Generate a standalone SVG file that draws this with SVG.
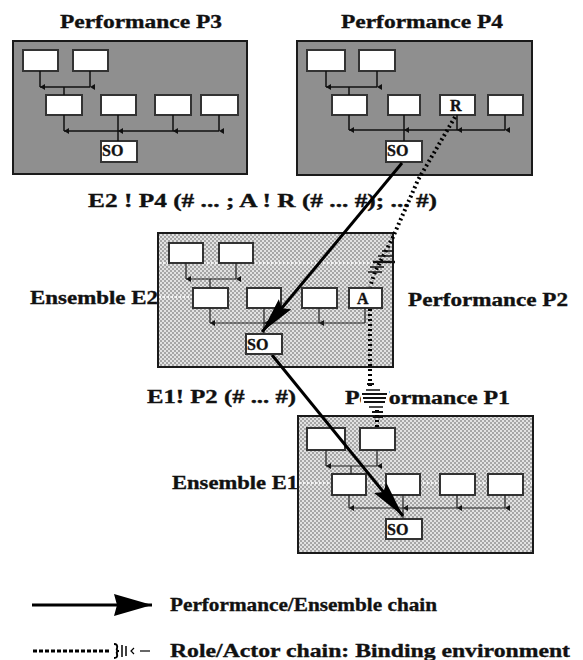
<svg xmlns="http://www.w3.org/2000/svg" width="583" height="660" viewBox="0 0 583 660">
<style>
.t{font-family:"Liberation Serif","Times New Roman",serif;font-weight:bold;fill:#111;stroke:#111;stroke-width:0.35}
.tt{font-size:19px}
.bt{font-size:16px}
.pbox{fill:#8f8f8f;stroke:#1a1a1a;stroke-width:2}
.ebox{fill:url(#dither);stroke:#1a1a1a;stroke-width:2}
.ib{fill:#fff;stroke:#333;stroke-width:2}
.ln{fill:none;stroke:#111;stroke-width:1.5}
.eln{fill:none;stroke:#222;stroke-width:1.2}
.tick{stroke:#111;stroke-width:1.5}
.chain{fill:none;stroke:#000;stroke-width:3}
.role{fill:none;stroke:#000;stroke-width:4;stroke-dasharray:2 3}
.band{stroke:#f2f2f2;stroke-width:2;stroke-dasharray:2 2}
</style>
<defs>
<pattern id="dither" width="4" height="4" patternUnits="userSpaceOnUse">
<rect width="4" height="4" fill="#e2e2e2"/>
<rect width="2" height="2" fill="#a6a6a6"/>
<rect x="2" y="2" width="2" height="2" fill="#a6a6a6"/>
</pattern>
<marker id="dn" markerUnits="userSpaceOnUse" markerWidth="6" markerHeight="6" refX="3" refY="5" orient="auto-start-reverse" viewBox="0 0 6 6">
<path d="M0,0 L6,0 L3,5 z" fill="#111"/>
</marker>
<marker id="ah" markerUnits="userSpaceOnUse" markerWidth="38" markerHeight="18" refX="36" refY="8" orient="auto" viewBox="0 0 38 18">
<path d="M0,0 L36,8 L0,16 L5,8 z" fill="#000"/>
</marker>
<marker id="ahL" markerUnits="userSpaceOnUse" markerWidth="40" markerHeight="24" refX="38" refY="11" orient="auto" viewBox="0 0 40 24">
<path d="M0,0 L38,11 L0,22 L3,11 z" fill="#000"/>
</marker>
</defs>
<rect width="583" height="660" fill="#fff"/>

<g id="P3">
<text class="t tt" x="60" y="28" textLength="162" lengthAdjust="spacingAndGlyphs">Performance P3</text>
<rect class="pbox" x="13" y="41" width="234" height="133"/>
<rect class="ib" x="23" y="50" width="35" height="21"/>
<rect class="ib" x="73" y="50" width="35" height="21"/>
<rect class="ib" x="46" y="95" width="36" height="20"/>
<rect class="ib" x="101" y="95" width="35" height="20"/>
<rect class="ib" x="155" y="95" width="36" height="20"/>
<rect class="ib" x="201" y="95" width="37" height="20"/>
<rect class="ib" x="101" y="141" width="36" height="21"/>
<text class="t bt" x="102" y="156">SO</text>
</g>

<g id="P4">
<text class="t tt" x="341" y="28" textLength="162" lengthAdjust="spacingAndGlyphs">Performance P4</text>
<rect class="pbox" x="297" y="41" width="235" height="134"/>
<rect class="ib" x="307" y="50" width="38" height="21"/>
<rect class="ib" x="359" y="50" width="36" height="21"/>
<rect class="ib" x="332" y="95" width="35" height="20"/>
<rect class="ib" x="388" y="95" width="32" height="20"/>
<rect class="ib" x="440" y="95" width="35" height="20"/>
<rect class="ib" x="488" y="95" width="35" height="20"/>
<rect class="ib" x="386" y="141" width="36" height="21"/>
<text class="t bt" x="450" y="111">R</text>
<text class="t bt" x="387" y="156">SO</text>
</g>

<g id="E2">
<text class="t tt" x="30" y="304" textLength="128" lengthAdjust="spacingAndGlyphs">Ensemble E2</text>
<text class="t tt" x="408" y="306" textLength="160" lengthAdjust="spacingAndGlyphs">Performance P2</text>
<rect class="ebox" x="158" y="233" width="235" height="134"/>
<line class="band" x1="159" y1="263" x2="392" y2="263"/>
<line class="band" x1="159" y1="297" x2="193" y2="297"/>
<rect class="ib" x="169" y="243" width="34" height="20"/>
<rect class="ib" x="219" y="243" width="34" height="20"/>
<rect class="ib" x="193" y="288" width="35" height="20"/>
<rect class="ib" x="247" y="288" width="34" height="20"/>
<rect class="ib" x="302" y="288" width="35" height="20"/>
<rect class="ib" x="349" y="288" width="33" height="20"/>
<text class="t bt" x="357" y="304">A</text>
</g>

<g id="E1">
<text class="t tt" x="345" y="404" textLength="165" lengthAdjust="spacingAndGlyphs">Performance P1</text>
<text class="t tt" x="172" y="489" textLength="126" lengthAdjust="spacingAndGlyphs">Ensemble E1</text>
<rect class="ebox" x="298" y="416" width="235" height="137"/>
<line class="band" x1="299" y1="483" x2="532" y2="483"/>
<rect class="ib" x="307" y="428" width="38" height="22"/>
<rect class="ib" x="360" y="428" width="35" height="22"/>
<rect class="ib" x="332" y="474" width="34" height="21"/>
<rect class="ib" x="386" y="474" width="34" height="21"/>
<rect class="ib" x="440" y="474" width="35" height="21"/>
<rect class="ib" x="488" y="474" width="35" height="21"/>
<rect class="ib" x="386" y="519" width="36" height="20"/>
<text class="t bt" x="387" y="535">SO</text>
</g>

<g id="labels">
<text class="t tt" x="88" y="207" textLength="349" lengthAdjust="spacingAndGlyphs">E2 ! P4 (# ... ; A ! R (# ... #); ... #)</text>
<text class="t tt" x="147" y="403" textLength="149" lengthAdjust="spacingAndGlyphs">E1! P2 (# ... #)</text>
</g>

<g id="connectors">
<g id="tree-P3">
<line class="ln" x1="40" y1="71" x2="40" y2="87" marker-end="url(#dn)"/>
<line class="ln" x1="90" y1="71" x2="90" y2="87" marker-end="url(#dn)"/>
<polyline class="ln" points="40,87 90,87"/>
<line class="ln" x1="64" y1="87" x2="64" y2="95"/>
<line class="ln" x1="64" y1="115" x2="64" y2="131" marker-end="url(#dn)"/>
<line class="ln" x1="118" y1="115" x2="118" y2="131" marker-end="url(#dn)"/>
<line class="ln" x1="173" y1="115" x2="173" y2="131" marker-end="url(#dn)"/>
<line class="ln" x1="219" y1="115" x2="219" y2="131" marker-end="url(#dn)"/>
<polyline class="ln" points="64,131 219,131"/>
<line class="ln" x1="118" y1="131" x2="118" y2="141"/>
</g>
<g id="tree-P4">
<line class="ln" x1="326" y1="71" x2="326" y2="87" marker-end="url(#dn)"/>
<line class="ln" x1="377" y1="71" x2="377" y2="87" marker-end="url(#dn)"/>
<polyline class="ln" points="326,87 377,87"/>
<line class="ln" x1="349" y1="87" x2="349" y2="95"/>
<line class="ln" x1="349" y1="115" x2="349" y2="130" marker-end="url(#dn)"/>
<line class="ln" x1="404" y1="115" x2="404" y2="130" marker-end="url(#dn)"/>
<line class="ln" x1="457" y1="115" x2="457" y2="130" marker-end="url(#dn)"/>
<line class="ln" x1="505" y1="115" x2="505" y2="130" marker-end="url(#dn)"/>
<polyline class="ln" points="349,130 505,130"/>
<line class="ln" x1="404" y1="130" x2="404" y2="141"/>
</g>
<g id="tree-E2">
<line class="eln" x1="186" y1="263" x2="186" y2="279" marker-end="url(#dn)"/>
<line class="eln" x1="236" y1="263" x2="236" y2="279" marker-end="url(#dn)"/>
<polyline class="eln" points="186,279 236,279"/>
<line class="eln" x1="210" y1="279" x2="210" y2="288"/>
<line class="eln" x1="210" y1="308" x2="210" y2="323" marker-end="url(#dn)"/>
<line class="eln" x1="264" y1="308" x2="264" y2="323" marker-end="url(#dn)"/>
<line class="eln" x1="319" y1="308" x2="319" y2="323" marker-end="url(#dn)"/>
<line class="eln" x1="365" y1="308" x2="365" y2="323"/>
<polyline class="eln" points="210,323 365,323"/>
<line class="eln" x1="264" y1="323" x2="264" y2="334"/>
</g>
<g id="tree-E1">
<line class="eln" x1="326" y1="450" x2="326" y2="466" marker-end="url(#dn)"/>
<line class="eln" x1="377" y1="450" x2="377" y2="466" marker-end="url(#dn)"/>
<polyline class="eln" points="326,466 377,466"/>
<line class="eln" x1="351" y1="466" x2="351" y2="474"/>
<line class="eln" x1="349" y1="495" x2="349" y2="508" marker-end="url(#dn)"/>
<line class="eln" x1="403" y1="495" x2="403" y2="508" marker-end="url(#dn)"/>
<line class="eln" x1="457" y1="495" x2="457" y2="508" marker-end="url(#dn)"/>
<line class="eln" x1="505" y1="495" x2="505" y2="508" marker-end="url(#dn)"/>
<polyline class="eln" points="349,508 505,508"/>
<line class="eln" x1="403" y1="508" x2="403" y2="519"/>
</g>
<g id="role-chain">
<path class="role" d="M455,117 L418,180 L393,237 L375,272 L370,287"/>
<path class="role" d="M370,309 L370,388"/>
<path class="role" d="M377,410 L377,428"/>
<g class="tick">
<line x1="382" y1="251" x2="393" y2="251"/>
<line x1="378" y1="256" x2="393" y2="256"/>
<line x1="373" y1="262" x2="395" y2="262" stroke-width="2.5"/>
<line x1="370" y1="267" x2="384" y2="267"/>
<line x1="368" y1="272" x2="382" y2="272"/>
</g>
<rect x="361" y="389" width="28" height="20" fill="#fff"/>
<g class="tick">
<line x1="367" y1="384" x2="374" y2="384" stroke-width="2"/>
<line x1="366" y1="390" x2="380" y2="390"/>
<line x1="362" y1="394" x2="387" y2="394" stroke-width="2"/>
<line x1="363" y1="398" x2="386" y2="398" stroke-width="2"/>
<line x1="364" y1="402" x2="385" y2="402" stroke-width="2"/>
<line x1="369" y1="407" x2="383" y2="407"/>
<line x1="372" y1="412" x2="383" y2="412" stroke-width="2"/>
<line x1="373" y1="417" x2="383" y2="417" stroke-width="2"/>
</g>
</g>
<g id="chain-P4-E2">
<line class="chain" x1="402" y1="163" x2="262" y2="332" marker-end="url(#ah)"/>
</g>
<g id="chain-E2-E1">
<line class="chain" x1="272" y1="355" x2="403" y2="516" marker-end="url(#ah)"/>
</g>
</g>

<g id="E2-SO">
<rect class="ib" x="246" y="334" width="36" height="20"/>
<text class="t bt" x="247" y="350">SO</text>
</g>

<g id="legend">
<line class="chain" x1="32" y1="605" x2="152" y2="605" marker-end="url(#ahL)"/>
<text class="t tt" x="170" y="611" textLength="267" lengthAdjust="spacingAndGlyphs">Performance/Ensemble chain</text>
<line x1="33" y1="651" x2="110" y2="651" stroke="#000" stroke-width="3" stroke-dasharray="4 2"/>
<path d="M114,644 Q118,644 117,648 Q116,651 119,651 Q116,651 117,654 Q118,658 114,658" fill="none" stroke="#000" stroke-width="2"/>
<line x1="122" y1="645" x2="122" y2="657" stroke="#000" stroke-width="1.5"/>
<line x1="126" y1="646" x2="126" y2="656" stroke="#000" stroke-width="1.5"/>
<path d="M134,648 L131,651 L134,654" fill="none" stroke="#000" stroke-width="1.2"/>
<line x1="140" y1="651" x2="150" y2="651" stroke="#000" stroke-width="1.2"/>
<text class="t tt" x="170" y="657" textLength="400" lengthAdjust="spacingAndGlyphs">Role/Actor chain: Binding environment</text>
</g>
</svg>
